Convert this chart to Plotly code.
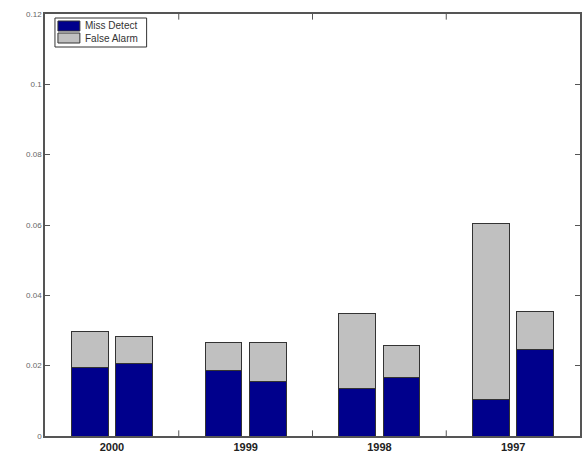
import plotly.graph_objects as go

# Error rates per year, two runs per year (left and right bar of each pair)
years = ["2000", "1999", "1998", "1997"]
miss_detect = [0.0195, 0.0205, 0.0187, 0.0156, 0.0134, 0.0165, 0.0105, 0.0247]
false_alarm = [0.0103, 0.0079, 0.0078, 0.0109, 0.0213, 0.0091, 0.0498, 0.0106]
series_names = ["Miss Detect", "False Alarm"]
series_colors = ["#00008C", "#C0C0C0"]
y_ticks = [0, 0.02, 0.04, 0.06, 0.08, 0.1, 0.12]

# Each year group sits at integer position; its two bars are offset left/right
offset = 0.165
bar_w = 0.275
xpos = []
for i in range(len(years)):
    xpos += [i + 1 - offset, i + 1 + offset]

line = dict(color="#333333", width=1)
fig = go.Figure()
for name, vals, col in zip(series_names, [miss_detect, false_alarm], series_colors):
    fig.add_trace(go.Bar(x=xpos, y=vals, name=name, width=bar_w,
                         marker=dict(color=col, line=line)))

W, H = 584, 456
ml, mr, mt, mb = 45, 2, 14, 20
pw, ph = W - ml - mr, H - mt - mb


def px(x):
    return (x - ml) / pw


def py(y):
    return 1 - (y - mt) / ph


fig.update_layout(
    width=W, height=H,
    barmode="stack",
    paper_bgcolor="white", plot_bgcolor="white",
    margin=dict(l=ml, r=mr, t=mt, b=mb),
    font=dict(family="Liberation Sans, Arial", color="#222222"),
    showlegend=False,
)

# Compact boxed legend in the upper-left corner
fig.add_shape(type="rect", xref="paper", yref="paper",
              x0=px(55), x1=px(147), y0=py(47), y1=py(18),
              line=dict(color="#333333", width=1), fillcolor="white")
for k, (name, col) in enumerate(zip(series_names, series_colors)):
    top = 21 + k * 12
    fig.add_shape(type="rect", xref="paper", yref="paper",
                  x0=px(58), x1=px(80), y0=py(top + 10), y1=py(top),
                  line=dict(color="#333333", width=1), fillcolor=col)
    fig.add_annotation(xref="paper", yref="paper", x=px(83), y=py(top + 5),
                       text=name, showarrow=False, xanchor="left", yanchor="middle",
                       font=dict(size=10, color="#333333"))

fig.update_xaxes(
    range=[0.5, len(years) + 0.5],
    tickmode="array",
    tickvals=list(range(1, len(years) + 1)),
    ticktext=["<b>%s</b>" % y for y in years],
    ticks="", showgrid=False, zeroline=False,
    showline=True, linecolor="#555555", linewidth=1.5, mirror=True,
    tickfont=dict(size=11, color="#222222"),
)
# Group separator ticks along bottom and top edges
for b in [1.5, 2.5, 3.5]:
    for y0, y1 in [(0, 0.0016), (0.12, 0.1184)]:
        fig.add_shape(type="line", x0=b, x1=b, y0=y0, y1=y1, xref="x", yref="y",
                      line=dict(color="#555555", width=1))
fig.update_yaxes(
    range=[0, 0.12],
    tickmode="array", tickvals=y_ticks,
    ticks="inside", ticklen=5, tickcolor="#555555",
    showgrid=False, zeroline=False,
    showline=True, linecolor="#555555", linewidth=1.5, mirror="ticks",
    tickfont=dict(size=8, color="#666666"),
)

fig.write_html("out.html")
